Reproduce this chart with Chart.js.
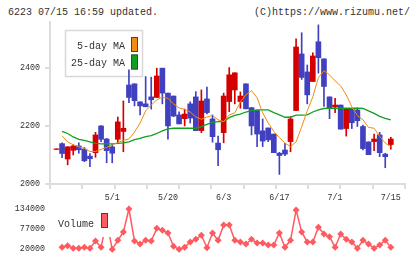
<!DOCTYPE html>
<html>
<head>
<meta charset="utf-8">
<script src="https://cdn.jsdelivr.net/npm/chart.js@4.4.1/dist/chart.umd.min.js"></script>
<style>
  body { margin: 0; width: 420px; height: 259px; background: #fff; position: relative; overflow: hidden; }
  .hd { position: absolute; top: 7px; font: 10px "Liberation Mono", monospace; line-height: 12px; color: #333; white-space: pre; }
  #c1 { position: absolute; left: 0; top: 0; z-index: 2; }
  #c2 { position: absolute; left: 0; top: 200px; z-index: 1; }
</style>
</head>
<body>
<div class="hd" style="left:8px">6223 07/15 16:59 updated.</div>
<div class="hd" style="right:10px">(C)https://www.rizumu.net/</div>
<canvas id="c1" width="420" height="208"></canvas>
<canvas id="c2" width="420" height="59"></canvas>
<script>
const dates = ['4/16','4/17','4/18','4/19','4/22','4/23','4/24','4/25','4/26','4/30',
  '5/1','5/2','5/7','5/8','5/9','5/10','5/13','5/14','5/15','5/17',
  '5/20','5/21','5/22','5/23','5/24','5/27','5/28','5/29','5/30','5/31',
  '6/3','6/4','6/5','6/6','6/7','6/10','6/11','6/12','6/13','6/14',
  '6/17','6/18','6/19','6/20','6/21','6/24','6/25','6/26','6/27','6/28',
  '7/1','7/2','7/3','7/4','7/5','7/8','7/9','7/10','7/11','7/12','7/15'];

const open  = [2119,2139,2086,2116,2131,2120,2096,2108,2200,2155,2128,2154,2181,2341,2345,2283,2276,2300,2298,2399,
  2313,2303,2238,2225,2276,2300,2184,2293,2224,2141,2177,2284,2324,2284,2345,2263,2253,2183,2193,2172,
  2106,2117,2146,2253,2448,2386,2353,2490,2431,2300,2266,2272,2191,2259,2255,2198,2145,2146,2169,2103,2136];
const high  = [2121,2142,2129,2135,2142,2126,2105,2178,2201,2157,2137,2231,2286,2393,2345,2283,2370,2368,2399,2399,
  2313,2303,2249,2258,2283,2318,2324,2334,2238,2165,2313,2401,2383,2317,2345,2263,2253,2224,2193,2172,
  2109,2140,2232,2500,2521,2410,2452,2548,2431,2300,2295,2272,2259,2259,2262,2203,2145,2172,2178,2106,2161];
const low   = [2119,2091,2066,2100,2106,2077,2060,2092,2146,2073,2073,2142,2111,2280,2269,2238,2266,2258,2298,2276,
  2154,2232,2207,2200,2210,2184,2177,2241,2144,2063,2142,2249,2276,2261,2259,2169,2129,2129,2146,2108,
  2033,2098,2111,2253,2360,2276,2353,2382,2267,2225,2246,2189,2165,2191,2198,2117,2101,2115,2094,2056,2120];
const close = [2121,2105,2128,2131,2118,2080,2087,2169,2154,2115,2106,2214,2192,2298,2287,2269,2266,2290,2372,2313,
  2200,2234,2207,2241,2227,2184,2286,2246,2163,2118,2303,2376,2383,2303,2259,2200,2172,2148,2152,2108,
  2098,2103,2224,2472,2367,2307,2441,2435,2336,2260,2272,2189,2259,2211,2218,2122,2101,2155,2108,2094,2155];

const ma5 = [null,2166,2145,2135,2128,2122,2112,2112,2119,2126,2135,2143,2150,2155,2179,2210,2252,2272,2290,2299,
  2295,2276,2262,2257,2248,2231,2223,2231,2236,2221,2215,2238,2245,2283,2307,2322,2297,2245,2210,2181,
  2160,2141,2129,2145,2197,2252,2300,2366,2390,2376,2355,2338,2307,2266,2236,2221,2195,2192,2164,2141,2128];
const ma25 = [null,2181,2174,2162,2154,2150,2145,2140,2138,2138,2138,2140,2142,2145,2153,2157,2163,2167,2174,2183,
  2190,2192,2192,2192,2192,2192,2198,2205,2212,2215,2215,2229,2236,2241,2248,2253,2255,2255,2255,2246,
  2238,2230,2230,2237,2237,2238,2248,2255,2260,2261,2261,2261,2261,2261,2261,2260,2252,2243,2233,2226,2221];

const volume = [null,24800,29500,21900,21900,24800,21900,42800,24800,100000,19000,44700,68500,134000,42800,34300,44700,42800,78900,73200,
  65600,27600,19000,24800,40000,47600,59000,23800,65600,44700,88400,88400,44700,40000,34300,47600,37100,37100,31400,31400,
  65600,24800,44700,131000,68500,40000,40000,81800,62800,55200,24800,62800,47600,40000,21900,44700,34300,21900,31400,44700,24800];

const priceTicks = [2000, 2200, 2400];
const volumeTicks = [20000, 77000, 134000];
const dateTickIdx = [10, 20, 30, 40, 50, 60];

const UP = '#d40000', DOWN = '#4040c0';
const xMin = -1.167, xMax = 62.545;
const monoFont = { family: '"Liberation Mono", monospace', size: 8.4 };

const colors = close.map((c, i) => c >= open[i] ? UP : DOWN);
const bodies = close.map((c, i) => ({ x: i, y: [Math.min(open[i], c), Math.max(open[i], c)] }));
const wicks = close.map((c, i) => ({ x: i, y: [low[i], high[i]] }));

// keep label overhang from shrinking the plot area
function noPad(s) {
  s.paddingTop = 0; s.paddingBottom = 0; s.paddingLeft = 0; s.paddingRight = 0;
}

const priceLegend = {
  id: 'priceLegend',
  beforeDatasetsDraw(chart) {
    const ctx = chart.ctx;
    ctx.save();
    ctx.fillStyle = '#fff';
    ctx.fillRect(65, 30, 78, 47);
    ctx.strokeStyle = '#d8d8d8';
    ctx.lineWidth = 1.5;
    ctx.strokeRect(65.5, 30.5, 77, 46);
    ctx.font = '10px "Liberation Mono", monospace';
    ctx.textAlign = 'right';
    ctx.textBaseline = 'alphabetic';
    [0, 1].forEach(k => {
      const ds = chart.data.datasets[k];
      const top = 37 + k * 17.5;
      ctx.fillStyle = '#333';
      ctx.fillText(ds.label, 125, top + 11.5);
      ctx.fillStyle = ds.borderColor;
      ctx.fillRect(131, top, 7, 15);
      ctx.strokeStyle = '#444';
      ctx.lineWidth = 1;
      ctx.strokeRect(131.5, top + 0.5, 6, 14);
    });
    ctx.restore();
  }
};

const volumeLegend = {
  id: 'volumeLegend',
  afterDatasetsDraw(chart) {
    const ctx = chart.ctx;
    ctx.save();
    ctx.fillStyle = '#fff';
    ctx.fillRect(54, 8, 58, 29);
    ctx.font = '10px "Liberation Mono", monospace';
    ctx.fillStyle = '#333';
    ctx.textBaseline = 'alphabetic';
    ctx.fillText('Volume', 58, 26.5);
    ctx.fillStyle = '#ff5a5f';
    ctx.fillRect(101, 13, 7, 15);
    ctx.strokeStyle = '#444';
    ctx.lineWidth = 1;
    ctx.strokeRect(101.5, 13.5, 6, 14);
    ctx.restore();
  }
};

new Chart(document.getElementById('c1'), {
  type: 'bar',
  data: {
    datasets: [
      { type: 'line', label: '5-day MA', data: ma5.map((v, i) => ({ x: i, y: v })),
        borderColor: '#f08c10', borderWidth: 1, pointRadius: 0, order: 0 },
      { type: 'line', label: '25-day MA', data: ma25.map((v, i) => ({ x: i, y: v })),
        borderColor: '#10a020', borderWidth: 1.3, pointRadius: 0, order: 1 },
      { label: 'body', data: bodies, backgroundColor: colors, barThickness: 5, grouped: false, order: 2 },
      { label: 'wick', data: wicks, backgroundColor: colors, barThickness: 1, grouped: false, order: 3 }
    ]
  },
  options: {
    responsive: false,
    animation: false,
    layout: { padding: { top: 22, right: 15, left: 0, bottom: 0 } },
    plugins: { legend: { display: false }, tooltip: { enabled: false } },
    scales: {
      x2: {
        type: 'linear', position: 'bottom', min: xMin, max: xMax, weight: 0, offset: false,
        afterBuildTicks: s => { s.ticks = Array.from({ length: 12 }, (_, k) => ({ value: xMin + k * (xMax - xMin) / 11 })); },
        afterFit: s => { s.height = 0; noPad(s); },
        border: { color: '#ddd', width: 2 },
        grid: { drawOnChartArea: false, offset: false, color: '#ddd', lineWidth: 2, tickLength: 5 },
        ticks: { display: false }
      },
      x: {
        type: 'linear', position: 'bottom', min: xMin, max: xMax, weight: 1, offset: false,
        afterBuildTicks: s => { s.ticks = dateTickIdx.map(v => ({ value: v })); },
        afterFit: s => { s.height = 24; noPad(s); },
        border: { display: false },
        grid: { display: false, drawTicks: false, offset: false },
        ticks: { callback: v => dates[v], color: '#333', font: monoFont, padding: 9, maxRotation: 0, autoSkip: false }
      },
      y: {
        min: 2000, max: 2558,
        afterBuildTicks: s => { s.ticks = priceTicks.map(v => ({ value: v })); },
        afterFit: s => { s.width = 50; noPad(s); },
        border: { color: '#ddd', width: 2 },
        grid: { drawOnChartArea: false, color: '#ddd', lineWidth: 2, tickLength: 5 },
        ticks: { callback: v => String(v), color: '#333', font: monoFont, padding: 5 }
      }
    }
  },
  plugins: [priceLegend]
});

new Chart(document.getElementById('c2'), {
  type: 'line',
  data: {
    datasets: [{
      label: 'Volume', data: volume.map((v, i) => ({ x: i, y: v })),
      borderColor: '#ff5a5f', backgroundColor: '#ff5a5f', borderWidth: 1.5,
      pointStyle: 'rectRot', pointRadius: 3.5, pointBorderWidth: 0
    }]
  },
  options: {
    responsive: false,
    animation: false,
    layout: { padding: { top: 5, right: 15, left: 0, bottom: 5 } },
    plugins: { legend: { display: false }, tooltip: { enabled: false } },
    scales: {
      x: { type: 'linear', min: xMin, max: xMax, display: false, offset: false },
      y: {
        min: 5750, max: 145400,
        afterBuildTicks: s => { s.ticks = volumeTicks.map(v => ({ value: v })); },
        afterFit: s => { s.width = 50; noPad(s); },
        border: { display: false },
        grid: { display: false, drawTicks: false },
        ticks: { callback: v => String(v), color: '#333', font: monoFont, padding: 5 }
      }
    }
  },
  plugins: [volumeLegend]
});
</script>
</body>
</html>
